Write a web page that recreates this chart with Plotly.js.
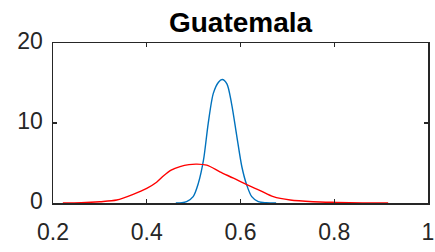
<!DOCTYPE html>
<html><head><meta charset="utf-8">
<script src="https://cdn.plot.ly/plotly-3.0.1.min.js"></script>
<style>html,body{margin:0;padding:0;background:#fff}#g{width:435px;height:252px}</style>
</head><body><div id="g"></div>
<script>
const titleText = "Guatemala";
const blueX = [0.462,0.475,0.485,0.499,0.510,0.521,0.531,0.542,0.553,0.561,0.571,0.581,0.592,0.603,0.613,0.624,0.638,0.655,0.676];
const blueY = [0,0.03,0.16,0.79,2.45,5.35,9.9,13.7,15.1,15.44,14.9,12.4,8.4,4.5,2.3,0.79,0.16,0.03,0];
const redX = [0.221,0.26,0.300,0.336,0.371,0.400,0.421,0.436,0.452,0.471,0.490,0.507,0.528,0.556,0.585,0.613,0.642,0.670,0.706,0.755,0.805,0.86,0.915];
const redY = [0,0.03,0.16,0.37,1.08,1.83,2.6,3.4,4.1,4.55,4.8,4.86,4.73,3.9,3.1,2.3,1.55,0.79,0.37,0.16,0.08,0.02,0];
const xTicks = [0.2,0.4,0.6,0.8,1];
const xTickText = ["0.2","0.4","0.6","0.8","1"];
const yTicks = [0,10,20];
const yTickText = ["0","10","20"];

const axCol = "#262626";
const fam = "Liberation Sans, Arial, sans-serif";
const traces = [
  {x: blueX, y: blueY, type: "scatter", mode: "lines", line: {color: "#0072BD", width: 1.4, shape: "spline", smoothing: 0.8}, hoverinfo: "none"},
  {x: redX, y: redY, type: "scatter", mode: "lines", line: {color: "#FF0000", width: 1.4, shape: "spline", smoothing: 0.8}, hoverinfo: "none"}
];
const layout = {
  width: 435, height: 252,
  margin: {l: 53, r: 7, t: 42.5, b: 49, pad: 0},
  paper_bgcolor: "#fff", plot_bgcolor: "#fff",
  showlegend: false,
  title: {text: "<b>" + titleText + "</b>", x: 0.553, xanchor: "center", y: 0.873, yanchor: "bottom",
          font: {family: fam, size: 28, color: "#000"}},
  xaxis: {range: [0.2, 1], tickvals: xTicks, ticktext: xTickText, ticks: "inside", ticklen: 4, tickwidth: 1.3,
          tickcolor: axCol, showline: true, linecolor: axCol, linewidth: 1.5, mirror: "ticks", showgrid: false, zeroline: false,
          tickfont: {family: fam, size: 23, color: axCol}, ticklabelstandoff: 8},
  yaxis: {range: [0, 20], tickvals: yTicks, ticktext: yTickText, ticks: "inside", ticklen: 4, tickwidth: 1.3,
          tickcolor: axCol, showline: true, linecolor: axCol, linewidth: 1.5, mirror: "ticks", showgrid: false, zeroline: false,
          tickfont: {family: fam, size: 23, color: axCol}, ticklabelstandoff: 4, ticklabelshift: -2}
};
Plotly.newPlot("g", traces, layout, {staticPlot: true, displayModeBar: false});
</script></body></html>
